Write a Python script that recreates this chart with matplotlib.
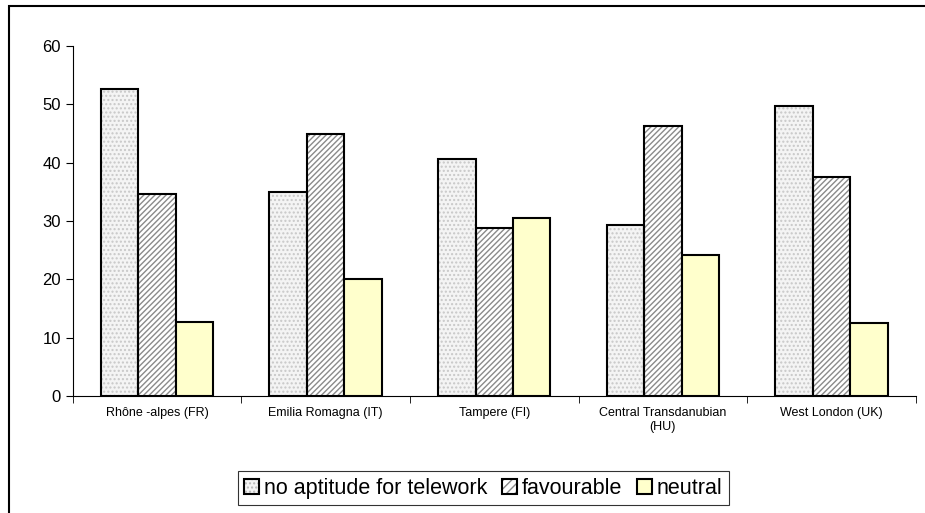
import numpy as np
import matplotlib
matplotlib.use("Agg")
from matplotlib import pyplot as plt
from matplotlib.patches import Rectangle
from matplotlib.legend_handler import HandlerTuple

plt.rcParams["font.family"] = ["Liberation Sans", "DejaVu Sans"]
plt.rcParams["hatch.linewidth"] = 1.0

regions = ["Rhône -alpes (FR)", "Emilia Romagna (IT)", "Tampere (FI)",
           "Central Transdanubian\n(HU)", "West London (UK)"]
no_aptitude = [52.7, 35.0, 40.6, 29.3, 49.8]
favourable = [34.7, 45.0, 28.8, 46.3, 37.6]
neutral = [12.7, 20.0, 30.5, 24.2, 12.5]

fig = plt.figure(figsize=(9.25, 5.13), dpi=100)
ax = fig.add_axes([0.0786, 0.228, 0.9114, 0.682])

x = np.arange(len(regions))
w = 0.222

# hatch layer (hatch colour follows edgecolor), then black outline on top
ax.bar(x - w, no_aptitude, w, color="#f4f4f4", edgecolor="#c8c8c8",
       linewidth=0, hatch="....")
ax.bar(x, favourable, w, color="white", edgecolor="#8a8a8a",
       linewidth=0, hatch="//////")
ax.bar(x - w, no_aptitude, w, fill=False, edgecolor="black", linewidth=1.5)
ax.bar(x, favourable, w, fill=False, edgecolor="black", linewidth=1.5)
ax.bar(x + w, neutral, w, color="#ffffcc", edgecolor="black", linewidth=1.5)

ax.set_xlim(-0.5, len(regions) - 0.5)
ax.set_ylim(0, 60)
ax.set_yticks(range(0, 61, 10))
ax.tick_params(axis="y", labelsize=12, length=5, direction="out")
ax.set_xticks(x)
ax.set_xticklabels(regions, fontsize=9)
ax.tick_params(axis="x", which="major", length=0, pad=8)
ax.set_xticks(np.arange(-0.5, len(regions)), minor=True)
ax.tick_params(axis="x", which="minor", length=5, direction="out")
ax.spines["top"].set_visible(False)
ax.spines["right"].set_visible(False)

# legend handles: grey hatch under a black outline
p1 = (Rectangle((0, 0), 1, 1, facecolor="#f4f4f4", edgecolor="#b8b8b8",
                linewidth=0, hatch="...."),
      Rectangle((0, 0), 1, 1, fill=False, edgecolor="black", linewidth=1.5))
p2 = (Rectangle((0, 0), 1, 1, facecolor="white", edgecolor="#8a8a8a",
                linewidth=0, hatch="////"),
      Rectangle((0, 0), 1, 1, fill=False, edgecolor="black", linewidth=1.5))
p3 = Rectangle((0, 0), 1, 1, facecolor="#ffffcc", edgecolor="black",
               linewidth=1.5)
leg = ax.legend([p1, p2, p3], ["no aptitude for telework", "favourable", "neutral"],
                handler_map={tuple: HandlerTuple(ndivide=1, pad=0)},
                loc="upper center", bbox_to_anchor=(0.487, -0.215), ncol=3,
                fontsize=15.5, frameon=True, fancybox=False, edgecolor="black",
                handlelength=0.7, handleheight=0.7, handletextpad=0.2,
                columnspacing=0.7, borderpad=0.3, borderaxespad=0)
leg.get_frame().set_linewidth(0.8)

fig.patches.append(Rectangle((8.5 / 925, -0.1), 2, 1.1 - 6.5 / 513,
                             transform=fig.transFigure, fill=False,
                             edgecolor="black", linewidth=1.5))

fig.savefig("out.png", dpi=100)
